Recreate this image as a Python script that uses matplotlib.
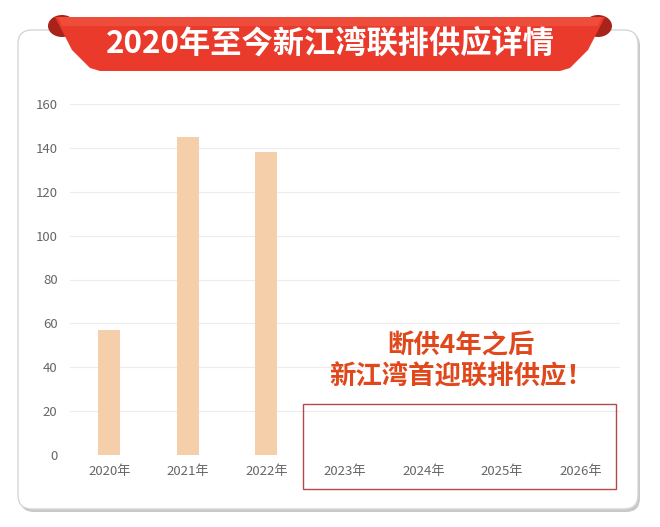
import matplotlib
matplotlib.use('Agg')
import matplotlib.pyplot as plt
from matplotlib.patches import FancyBboxPatch, Polygon, Rectangle, Ellipse

plt.rcParams['font.family'] = ['Noto Sans CJK SC', 'DejaVu Sans']

# data
years = ['2020年', '2021年', '2022年', '2023年', '2024年', '2025年', '2026年']
supply = [57, 145, 138, 0, 0, 0, 0]
yticks = [0, 20, 40, 60, 80, 100, 120, 140, 160]
title = '2020年至今新江湾联排供应详情'
note = '断供4年之后\n新江湾首迎联排供应！'

W, H = 660, 527
fig = plt.figure(figsize=(W / 100, H / 100), dpi=100)
fig.patch.set_facecolor('white')

# background layer in pixel coords
bg = fig.add_axes([0, 0, 1, 1], zorder=0)
bg.set_xlim(0, W)
bg.set_ylim(H, 0)
bg.axis('off')

# card with shadow
shadow = FancyBboxPatch((20, 32), 620, 480, boxstyle='round,pad=0,rounding_size=14',
                        fc='#c8c8c8', ec='none')
bg.add_patch(shadow)
card = FancyBboxPatch((18, 30), 620, 479, boxstyle='round,pad=0,rounding_size=14',
                      fc='white', ec='#d6d6d6', lw=1)
bg.add_patch(card)

# ribbon folds
bg.add_patch(Ellipse((62, 26), 28, 22, fc='#a8231a', ec='none'))
bg.add_patch(Ellipse((598, 26), 28, 22, fc='#a8231a', ec='none'))
# ribbon body
ribbon = Polygon([(55, 17), (605, 17), (588, 50), (570, 68), (560, 71),
                  (100, 71), (90, 68), (72, 50)], closed=True,
                 fc='#ea3a2c', ec='none')
bg.add_patch(ribbon)
bg.add_patch(Polygon([(58, 17), (602, 17), (598, 26), (62, 26)], closed=True,
                     fc='#f25a46', ec='none', alpha=0.6))
bg.text(330, 44, title, color='white', fontsize=22.5, fontweight='bold',
        ha='center', va='center')

# main chart
ax = fig.add_axes([70 / W, 72 / H, 550 / W, 351 / H], zorder=1)
ax.patch.set_alpha(0)
x = range(len(years))
ax.bar(x, supply, width=0.28, color='#f4cfaa', zorder=2)
ax.set_xlim(-0.5, 6.5)
ax.set_ylim(0, 160)
ax.set_yticks(yticks)
ax.set_xticks(list(x))
ax.set_xticklabels(years)
ax.grid(axis='y', color='#ececec', lw=0.8, zorder=0)
for s in ax.spines.values():
    s.set_visible(False)
ax.tick_params(length=0, colors='#666666', labelsize=9.5)
ax.tick_params(axis='y', pad=9)
ax.tick_params(axis='x', pad=7)

# overlay: red box and note
ov = fig.add_axes([0, 0, 1, 1], zorder=2)
ov.set_xlim(0, W)
ov.set_ylim(H, 0)
ov.axis('off')
ov.add_patch(Rectangle((303, 404), 313, 85, fill=False, ec='#b54848', lw=1))
ov.text(461, 361, note, color='#e0481c', fontsize=19, fontweight='bold',
        ha='center', va='center', linespacing=1.15)

fig.savefig('out.png', dpi=100)
